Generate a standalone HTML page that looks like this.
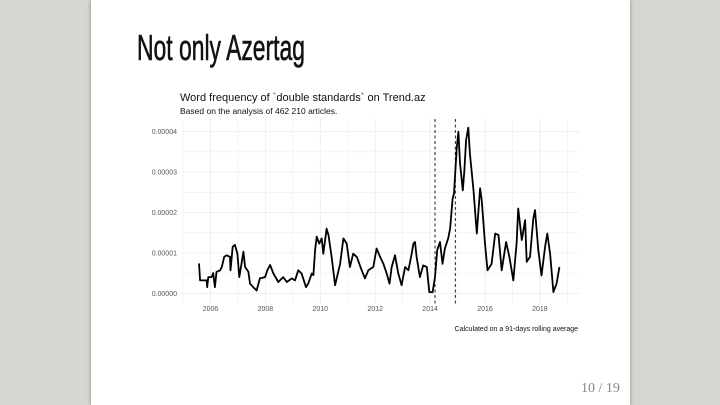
<!DOCTYPE html>
<html><head><meta charset="utf-8">
<style>
html,body{margin:0;padding:0;}
body{width:720px;height:405px;background:#d5d5d1;position:relative;overflow:hidden;font-family:"Liberation Sans",sans-serif;}
#slide{position:absolute;left:91px;top:0;width:539px;height:405px;background:#fff;box-shadow:0 0 4px rgba(0,0,0,0.35);}
#title{position:absolute;left:137px;top:27px;font-family:"Liberation Sans Narrow","Liberation Sans",sans-serif;font-size:36px;font-weight:normal;color:#111;-webkit-text-stroke:0.6px #111;white-space:nowrap;transform-origin:0 0;}
#pagenum{position:absolute;left:581px;top:381px;font-family:"Liberation Serif",serif;font-size:14px;color:#888;}
svg{position:absolute;left:0;top:0;}
</style></head><body>
<div id="slide"></div>
<div id="title">Not only Azertag</div>
<div id="pagenum">10 / 19</div>
<svg id="chart" width="720" height="405">
<text x="180" y="101" font-size="11" fill="#111">Word frequency of `double standards` on Trend.az</text>
<text x="180" y="114" font-size="8.5" fill="#111">Based on the analysis of 462 210 articles.</text>
<text x="578" y="331" font-size="7" fill="#111" text-anchor="end">Calculated on a 91-days rolling average</text>
<g id="grid"></g><g id="axes"></g><g id="series"></g>
</svg>
<script>
const years = [2005.58,2005.62,2005.86,2005.88,2005.92,2006.04,2006.10,2006.16,2006.22,2006.35,2006.41,2006.50,2006.59,2006.71,2006.73,2006.81,2006.89,2006.98,2007.05,2007.13,2007.20,2007.26,2007.38,2007.44,2007.56,2007.68,2007.80,2007.99,2008.07,2008.17,2008.29,2008.47,2008.65,2008.78,2008.96,2009.08,2009.20,2009.32,2009.48,2009.56,2009.69,2009.75,2009.81,2009.87,2009.96,2010.05,2010.11,2010.23,2010.30,2010.41,2010.54,2010.72,2010.84,2010.96,2011.08,2011.20,2011.33,2011.51,2011.63,2011.75,2011.93,2012.05,2012.18,2012.30,2012.42,2012.52,2012.60,2012.72,2012.84,2012.96,2013.09,2013.21,2013.33,2013.39,2013.45,2013.51,2013.63,2013.75,2013.88,2013.97,2014.09,2014.18,2014.26,2014.36,2014.45,2014.54,2014.66,2014.73,2014.82,2014.87,2014.97,2015.03,2015.09,2015.19,2015.25,2015.31,2015.39,2015.45,2015.58,2015.70,2015.82,2015.88,2016.00,2016.09,2016.24,2016.37,2016.49,2016.61,2016.77,2016.89,2017.03,2017.15,2017.21,2017.34,2017.46,2017.52,2017.64,2017.76,2017.82,2017.94,2018.06,2018.19,2018.27,2018.37,2018.49,2018.61,2018.71];
const freqE5 = [0.74,0.32,0.32,0.15,0.40,0.40,0.50,0.15,0.53,0.57,0.65,0.90,0.94,0.90,0.57,1.15,1.20,0.98,0.40,0.73,1.03,0.65,0.53,0.24,0.15,0.07,0.37,0.40,0.57,0.70,0.49,0.28,0.40,0.28,0.37,0.32,0.57,0.49,0.15,0.24,0.49,0.45,1.07,1.40,1.23,1.36,0.98,1.60,1.44,0.90,0.20,0.73,1.36,1.23,0.65,0.98,0.90,0.57,0.37,0.57,0.65,1.11,0.90,0.73,0.49,0.24,0.65,0.94,0.49,0.20,0.65,0.57,0.98,1.23,1.27,0.90,0.40,0.69,0.65,0.03,0.03,0.40,1.07,1.27,0.73,1.11,1.36,1.60,2.34,2.47,3.59,4.00,3.22,2.55,3.05,3.80,4.10,3.46,2.55,1.48,2.60,2.31,1.23,0.57,0.73,1.48,1.44,0.57,1.27,0.90,0.32,1.23,2.10,1.32,1.81,0.78,0.90,1.85,2.06,1.07,0.44,1.15,1.48,0.98,0.03,0.24,0.65];
const yTicks = [0,1,2,3,4];
const yTickLabels = ["0.00000","0.00001","0.00002","0.00003","0.00004"];
const xTicks = [2006,2008,2010,2012,2014,2016,2018];
const eventYears = [2014.18,2014.92];

const ttl=document.getElementById('title');
ttl.style.transform='scaleX('+(168/ttl.getBoundingClientRect().width)+')';

const NS="http://www.w3.org/2000/svg";
const xS = y => 210.5 + (y-2006)*27.45;
const yS = v => 293.3 - v*40.4;
function mk(tag, attrs, parent){const e=document.createElementNS(NS,tag);for(const k in attrs)e.setAttribute(k,attrs[k]);parent.appendChild(e);return e;}
const grid=document.getElementById('grid'), axes=document.getElementById('axes'), series=document.getElementById('series');
const L=182, R=579, T=119, B=304;
for(let v=0; v<=4; v+=0.5){
  const g=mk('line',{x1:L,x2:R,y1:yS(v),y2:yS(v),stroke:'#ebebeb','stroke-width':v%1===0?0.8:0.5},grid);
  
  
}
for(let yr=2005; yr<=2019; yr++){
  const g=mk('line',{x1:xS(yr),x2:xS(yr),y1:T,y2:B,stroke:'#ebebeb','stroke-width':yr%2===0?0.8:0.5},grid);
  
  
}
yTicks.forEach((v,i)=>{
  const t=mk('text',{x:177,y:yS(v)+2.5,'font-size':7,fill:'#555','text-anchor':'end'},axes);
  t.textContent=yTickLabels[i];
  
  
});
xTicks.forEach(yr=>{
  const t=mk('text',{x:xS(yr),y:311,'font-size':7,fill:'#555','text-anchor':'middle'},axes);
  t.textContent=yr;
  
  
});
eventYears.forEach(yr=>{
  const l=mk('line',{x1:xS(yr),x2:xS(yr),y1:T,y2:B,stroke:'#222','stroke-width':1,'stroke-dasharray':'3,2.5'},series);
  
  
});
const d=years.map((y,i)=>(i?'L':'M')+xS(y).toFixed(1)+','+yS(freqE5[i]).toFixed(1)).join('');
const p=mk('path',{d:d,fill:'none',stroke:'#000','stroke-width':1.8,'stroke-linejoin':'round'},series);


</script>
</body></html>
